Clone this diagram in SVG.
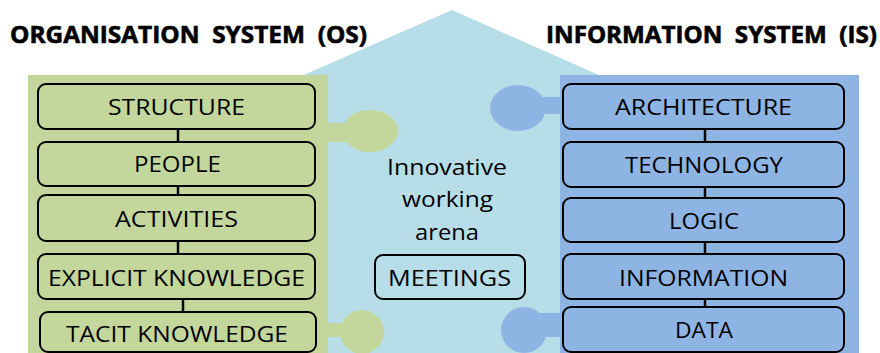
<svg xmlns="http://www.w3.org/2000/svg" width="880" height="353" viewBox="0 0 880 353">
<style>
.title{font-family:"Open Sans","Liberation Sans",sans-serif;font-weight:bold;font-size:23px;fill:#000;stroke:#000;stroke-width:0.6;white-space:pre}
.lbl{font-family:"Open Sans","Liberation Sans",sans-serif;font-size:22px;fill:#000;text-anchor:middle}
.gbox{fill:#C3D69B;stroke:#000;stroke-width:2}
.bbox{fill:#8EB4E3;stroke:#000;stroke-width:2}
.link{stroke:#000;stroke-width:2.5}
</style>
<rect width="880" height="353" fill="#fff"/>
<polygon id="arena-house" points="290,81 452,10 610,80 610,353 290,353" fill="#B7DEE8"/>
<rect id="os-panel" x="28" y="75" width="300" height="278" fill="#C3D69B"/>
<rect id="is-panel" x="560" y="75" width="299" height="278" fill="#8EB4E3"/>
<g id="lollipops">
<rect x="326" y="123" width="20" height="19" fill="#C3D69B"/>
<ellipse cx="370" cy="131" rx="28" ry="21" fill="#C3D69B"/>
<rect x="326" y="323" width="20" height="14" fill="#C3D69B"/>
<circle cx="362" cy="332" r="22" fill="#C3D69B"/>
<rect x="535" y="97" width="27" height="17" fill="#8EB4E3"/>
<ellipse cx="518" cy="108" rx="28" ry="23" fill="#8EB4E3"/>
<rect x="535" y="313" width="27" height="24" fill="#8EB4E3"/>
<circle cx="524" cy="330" r="23" fill="#8EB4E3"/>
</g>
<text class="title" x="10" y="43" xml:space="preserve" textLength="357" lengthAdjust="spacingAndGlyphs">ORGANISATION  SYSTEM  (OS)</text>
<text class="title" x="546" y="43" xml:space="preserve" textLength="331" lengthAdjust="spacingAndGlyphs">INFORMATION  SYSTEM  (IS)</text>
<g id="connectors">
<line class="link" x1="178" y1="129" x2="178" y2="142"/>
<line class="link" x1="178" y1="186" x2="178" y2="195"/>
<line class="link" x1="178" y1="241" x2="178" y2="254"/>
<line class="link" x1="183" y1="299" x2="183" y2="312"/>
<line class="link" x1="705" y1="129" x2="705" y2="142"/>
<line class="link" x1="705" y1="187" x2="705" y2="198"/>
<line class="link" x1="705" y1="242" x2="705" y2="254"/>
<line class="link" x1="705" y1="299" x2="705" y2="307"/>
</g>
<g id="structure"><rect class="gbox" x="38" y="84" width="277" height="45" rx="8"/><text class="lbl" x="176.5" y="115" textLength="137" lengthAdjust="spacingAndGlyphs">STRUCTURE</text></g>
<g id="people"><rect class="gbox" x="38" y="142" width="277" height="44" rx="8"/><text class="lbl" x="177.5" y="172" textLength="87" lengthAdjust="spacingAndGlyphs">PEOPLE</text></g>
<g id="activities"><rect class="gbox" x="38" y="195" width="277" height="46" rx="8"/><text class="lbl" x="176.5" y="227" textLength="123" lengthAdjust="spacingAndGlyphs">ACTIVITIES</text></g>
<g id="explicit-knowledge"><rect class="gbox" x="38" y="254" width="277" height="45" rx="8"/><text class="lbl" x="176.5" y="286" textLength="257" lengthAdjust="spacingAndGlyphs">EXPLICIT KNOWLEDGE</text></g>
<g id="tacit-knowledge"><rect class="gbox" x="40" y="312" width="276" height="40" rx="8"/><text class="lbl" x="177" y="342" textLength="222" lengthAdjust="spacingAndGlyphs">TACIT KNOWLEDGE</text></g>
<g id="architecture"><rect class="bbox" x="563" y="84" width="281" height="45" rx="8"/><text class="lbl" x="703.5" y="115" textLength="177" lengthAdjust="spacingAndGlyphs">ARCHITECTURE</text></g>
<g id="technology"><rect class="bbox" x="563" y="142" width="281" height="45" rx="8"/><text class="lbl" x="704" y="173" textLength="158" lengthAdjust="spacingAndGlyphs">TECHNOLOGY</text></g>
<g id="logic"><rect class="bbox" x="563" y="198" width="281" height="44" rx="8"/><text class="lbl" x="704" y="229" textLength="70" lengthAdjust="spacingAndGlyphs">LOGIC</text></g>
<g id="information"><rect class="bbox" x="563" y="254" width="281" height="45" rx="8"/><text class="lbl" x="703.5" y="286" textLength="169" lengthAdjust="spacingAndGlyphs">INFORMATION</text></g>
<g id="data"><rect class="bbox" x="563" y="307" width="281" height="45" rx="8"/><text class="lbl" x="704" y="338" textLength="58" lengthAdjust="spacingAndGlyphs">DATA</text></g>
<g id="arena-label"><text class="lbl" x="447" y="175" textLength="120" lengthAdjust="spacingAndGlyphs">Innovative</text><text class="lbl" x="447.5" y="207" textLength="91" lengthAdjust="spacingAndGlyphs">working</text><text class="lbl" x="447" y="240" textLength="64" lengthAdjust="spacingAndGlyphs">arena</text></g>
<g id="meetings"><rect x="375" y="255" width="150" height="44" rx="8" fill="#B7DEE8" stroke="#000" stroke-width="2"/><text class="lbl" x="449.5" y="286" textLength="123" lengthAdjust="spacingAndGlyphs">MEETINGS</text></g>
</svg>
